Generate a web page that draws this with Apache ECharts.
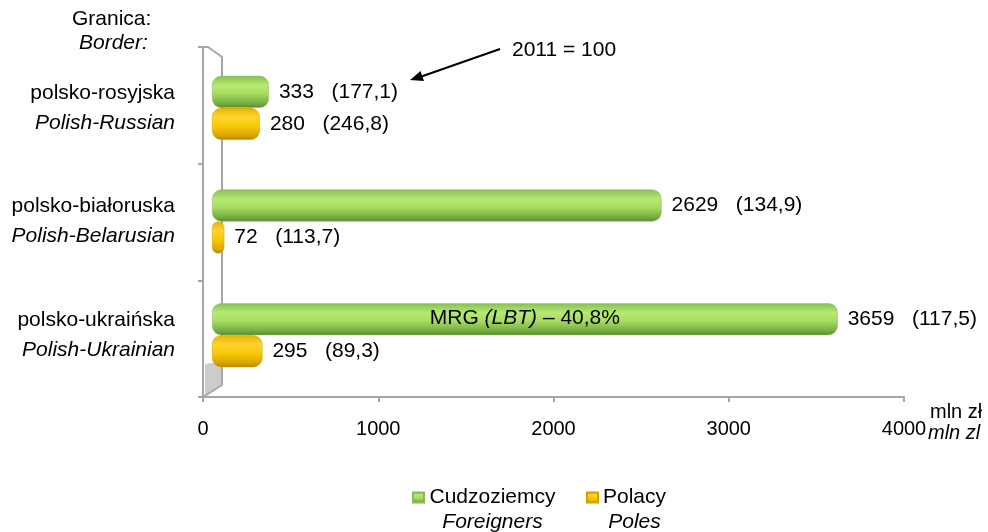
<!DOCTYPE html>
<html>
<head>
<meta charset="utf-8">
<title>Granica</title>
<script src="https://cdn.jsdelivr.net/npm/echarts@6/dist/echarts.min.js"></script>
<style>
  html, body { margin: 0; padding: 0; background: #fff; }
  #chart { width: 988px; height: 532px; }
</style>
</head>
<body>
<div id="chart"></div>
<script>
// dane
const categories = ['polsko-rosyjska', 'polsko-białoruska', 'polsko-ukraińska'];
const categoriesEn = ['Polish-Russian', 'Polish-Belarusian', 'Polish-Ukrainian'];
const foreigners = [333, 2629, 3659];
const foreignersIndex = ['177,1', '134,9', '117,5'];
const poles = [280, 72, 295];
const polesIndex = ['246,8', '113,7', '89,3'];
const xTicks = [0, 1000, 2000, 3000, 4000];

const FONT = '"Liberation Sans", Arial, sans-serif';
const GREY = '#a6a6a6';

// gradienty "walca"
const greenFill = new echarts.graphic.LinearGradient(0, 0, 0, 1, [
  { offset: 0, color: '#86c053' },
  { offset: 0.3, color: '#b6e970' },
  { offset: 0.55, color: '#a8dc62' },
  { offset: 0.85, color: '#78b043' },
  { offset: 1, color: '#5a8a2e' }
]);
const yellowFill = new echarts.graphic.LinearGradient(0, 0, 0, 1, [
  { offset: 0, color: '#e6b200' },
  { offset: 0.3, color: '#ffd52e' },
  { offset: 0.6, color: '#f7c600' },
  { offset: 0.88, color: '#d8a200' },
  { offset: 1, color: '#b48600' }
]);

const chart = echarts.init(document.getElementById('chart'));

const option = {
  animation: false,
  textStyle: { fontFamily: FONT },
  grid: [
    // słupki (tylna płaszczyzna)
    { left: 212, width: 684, top: 51, height: 341 },
    // przednie osie
    { left: 203, width: 701, top: 47, height: 350 }
  ],
  xAxis: [
    { gridIndex: 0, type: 'value', min: 0, max: 4000, show: false },
    {
      gridIndex: 1, type: 'value', min: xTicks[0], max: xTicks[xTicks.length - 1], interval: 1000,
      axisLine: { show: true, lineStyle: { color: GREY, width: 2 } },
      axisTick: { show: true, length: 5, lineStyle: { color: GREY, width: 2 } },
      splitLine: { show: false },
      axisLabel: {
        color: '#000', fontSize: 20, margin: 22, fontFamily: FONT,
        formatter: v => String(v)
      }
    }
  ],
  yAxis: [
    {
      gridIndex: 0, type: 'category', inverse: true, data: categories,
      axisLine: { show: false }, axisTick: { show: false },
      axisLabel: {
        margin: 37,
        formatter: (v, i) => '{a|' + v + '}\n{b|' + categoriesEn[i] + '}',
        rich: {
          a: { fontSize: 21, lineHeight: 30, color: '#000', fontFamily: FONT },
          b: { fontSize: 21, lineHeight: 30, color: '#000', fontStyle: 'italic', fontFamily: FONT }
        }
      }
    },
    {
      gridIndex: 1, type: 'category', inverse: true, data: categories,
      axisLine: { show: true, lineStyle: { color: GREY, width: 2 } },
      axisTick: { show: true, length: 5, lineStyle: { color: GREY, width: 2 } },
      axisLabel: { show: false }
    }
  ],
  legend: {
    left: 412,
    top: 487,
    padding: 0,
    itemGap: 30,
    itemWidth: 11,
    itemHeight: 10,
    icon: 'rect',
    data: ['Cudzoziemcy', 'Polacy'],
    formatter: name => name === 'Cudzoziemcy'
      ? '{a1|Cudzoziemcy}\n{b1|Foreigners}'
      : '{a2|Polacy}\n{b2|Poles}',
    textStyle: {
      padding: [25, 0, 0, 0],
      rich: {
        a1: { width: 127, align: 'center', fontSize: 21, lineHeight: 25, color: '#000', fontFamily: FONT },
        b1: { width: 127, align: 'center', fontSize: 21, lineHeight: 25, color: '#000', fontStyle: 'italic', fontFamily: FONT },
        a2: { width: 63, align: 'center', fontSize: 21, lineHeight: 25, color: '#000', fontFamily: FONT },
        b2: { width: 63, align: 'center', fontSize: 21, lineHeight: 25, color: '#000', fontStyle: 'italic', fontFamily: FONT }
      }
    }
  },
  series: [
    {
      name: 'Cudzoziemcy',
      type: 'bar',
      xAxisIndex: 0, yAxisIndex: 0,
      barWidth: 32,
      barGap: '0%',
      data: foreigners,
      itemStyle: { color: greenFill, borderRadius: 9, borderColor: '#8ab85f', borderWidth: 0.5 },
      label: {
        show: true, position: 'right', distance: 10,
        color: '#000', fontSize: 21, fontFamily: FONT,
        formatter: p => p.value + '   (' + foreignersIndex[p.dataIndex] + ')'
      }
    },
    {
      name: 'Polacy',
      type: 'bar',
      xAxisIndex: 0, yAxisIndex: 0,
      barWidth: 32,
      data: poles,
      itemStyle: { color: yellowFill, borderRadius: 9, borderColor: '#d0a000', borderWidth: 0.5 },
      label: {
        show: true, position: 'right', distance: 10,
        color: '#000', fontSize: 21, fontFamily: FONT,
        formatter: p => p.value + '   (' + polesIndex[p.dataIndex] + ')'
      }
    }
  ],
  graphic: {
    elements: [
      // ścianka 3D
      {
        type: 'polygon', silent: true, z: 0,
        shape: { points: [[205, 364], [221, 362], [221, 385], [205, 395]] },
        style: { fill: '#cccccc' }
      },
      {
        type: 'polyline', silent: true, z: 1,
        shape: { points: [[203, 47], [208, 47], [222, 57], [222, 385], [203, 397]] },
        style: { stroke: GREY, lineWidth: 2, fill: null }
      },
      // nagłówek
      {
        type: 'text', left: 72, top: 9,
        style: { text: 'Granica:', fontSize: 21, fontFamily: FONT, fill: '#000' }
      },
      {
        type: 'text', left: 79, top: 33,
        style: { text: 'Border:', fontSize: 21, fontStyle: 'italic', fontFamily: FONT, fill: '#000' }
      },
      // jednostka
      {
        type: 'text', left: 930, top: 402,
        style: { text: 'mln zł', fontSize: 20, fontFamily: FONT, fill: '#000' }
      },
      {
        type: 'text', left: 928, top: 423,
        style: { text: 'mln zl', fontSize: 20, fontStyle: 'italic', fontFamily: FONT, fill: '#000' }
      },
      // 2011 = 100 ze strzałką
      {
        type: 'text', left: 512, top: 40,
        style: { text: '2011 = 100', fontSize: 21, fontFamily: FONT, fill: '#000' }
      },
      {
        type: 'line', silent: true,
        shape: { x1: 500, y1: 49, x2: 420, y2: 77 },
        style: { stroke: '#000', lineWidth: 2 }
      },
      {
        type: 'polygon', silent: true,
        shape: { points: [[410, 80], [424, 81], [420.5, 71]] },
        style: { fill: '#000' }
      }
    ]
  }
};

chart.setOption(option);

// adnotacja MRG w słupku cudzoziemców (granica z Ukrainą)
const pt = chart.convertToPixel({ gridIndex: 0 }, [foreigners[2] / 2, categories[2]]);
chart.setOption({
  graphic: {
    elements: [{
      id: 'mrg', type: 'text', x: pt[0], y: pt[1] - 17, z: 10,
      style: {
        text: '{n|MRG }{i|(LBT)}{n| – 40,8%}',
        align: 'center', verticalAlign: 'middle',
        rich: {
          n: { fontSize: 21, fontFamily: FONT, fill: '#000' },
          i: { fontSize: 21, fontFamily: FONT, fontStyle: 'italic', fill: '#000' }
        }
      }
    }]
  }
});
</script>
</body>
</html>
